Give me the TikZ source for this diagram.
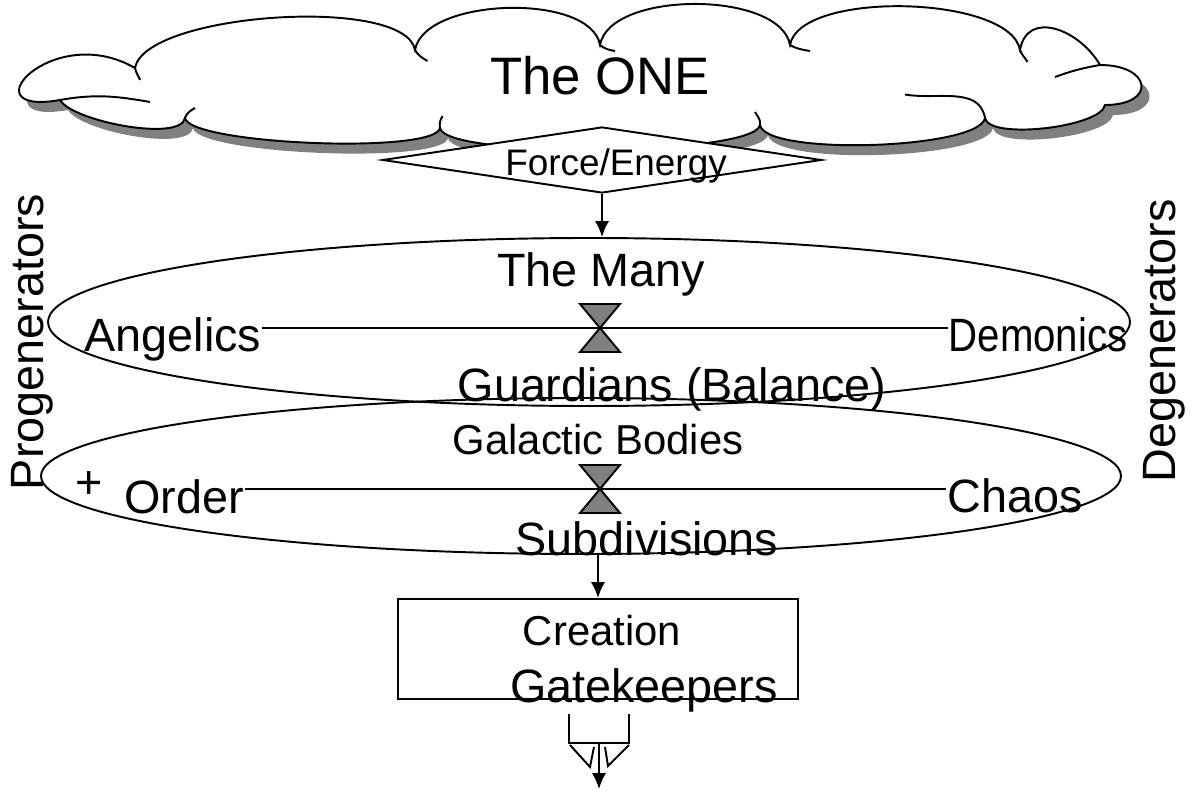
\documentclass[tikz,border=0pt]{standalone}
\usepackage{fontspec}
\setmainfont{Liberation Sans}
\usetikzlibrary{shapes.geometric,arrows.meta}
\tikzset{>={Latex[length=9pt,width=8pt]}}
\tikzset{
  big/.style={font=\fontsize{26.6}{30}\selectfont, inner sep=0pt, anchor=base},
  small/.style={font=\fontsize{23.8}{27}\selectfont, inner sep=0pt, anchor=base},
  ring/.style={draw, ellipse, inner sep=0pt},
  sandglass/.style={draw, fill=gray},
  shade/.style={preaction={fill=gray, transform canvas={xshift=0.16cm, yshift=-0.2cm}}},
}

\begin{document}
\begin{tikzpicture}[line width=1.1pt]
\useasboundingbox (0,0) rectangle (23.84,15.84);
\draw[fill=white, shade] (2.70,14.48) to[out=80,in=100,looseness=0.51] (8.30,14.84)
  to[out=80,in=100,looseness=0.74] (12.00,14.94)
  to[out=80,in=100,looseness=0.75] (15.80,14.94)
  to[out=80,in=100,looseness=0.62] (20.40,14.84)
  to[out=80,in=120,looseness=1.3] (22.00,14.54)
  to[out=0,in=0,looseness=3.3] (22.10,13.74)
  to[out=-100,in=-80,looseness=0.48] (19.70,13.48)
  to[out=-100,in=-80,looseness=0.36] (15.20,13.34)
  to[out=-100,in=-80,looseness=0.25] (8.80,13.28)
  to[out=-100,in=-80,looseness=0.27] (3.70,13.48)
  to[out=-100,in=-60,looseness=0.5] (1.20,13.84)
  to[out=190,in=150,looseness=3] (2.70,14.48) -- cycle;
\draw (2.70,14.48) to[out=-80,in=110] (2.80,14.24);
\draw (8.30,14.84) to[out=-60,in=150] (8.55,14.62);
\draw (12.00,14.94) to[out=-40,in=170] (12.30,14.82);
\draw (15.80,14.94) to[out=-30,in=170] (16.20,14.82);
\draw (20.40,14.84) to[out=-70,in=120] (20.55,14.60);
\draw (22.00,14.54) to[out=-170,in=20] (21.10,14.30);
\draw (19.70,13.48) to[out=100,in=-10] (18.10,13.95);
\draw (15.20,13.34) to[out=80,in=-60] (15.10,13.60);
\draw (8.80,13.28) to[out=100,in=-120] (8.85,13.52);
\draw (3.70,13.48) to[out=70,in=-150] (3.90,13.68);
\draw (1.20,13.84) to[out=10,in=170] (3.00,13.80);
\node (one) [font=\fontsize{30}{34}\selectfont, inner sep=0pt, anchor=base] at (12.0,13.94) {The ONE};
\node (energy) [diamond, draw, fill=white, minimum width=8.78cm, minimum height=1.32cm, inner sep=0pt] at (12.04,12.64) {};
\node (energylbl) [font=\fontsize{21}{24}\selectfont, inner sep=0pt, anchor=base] at (12.32,12.32) {Force/Energy};
\node (many) [ring, minimum width=21.64cm, minimum height=3.36cm] at (11.78,9.40) {};
\node (galaxy) [ring, minimum width=21.6cm, minimum height=3.12cm] at (11.62,6.32) {};
\node (manylbl) [big] at (12.02,10.1) {The Many};
\node (angelics) [big] at (3.46,8.8) {Angelics};
\node (demonics) [big] at (20.76,8.8) {\scalebox{0.86}[1]{Demonics}};
\node (guardians) [big] at (13.44,7.8) {Guardians (Balance)};
\node (bodies) [small] at (11.96,6.74) {Galactic Bodies};
\node (plus) [big] at (1.78,5.88) {+};
\node (order) [big] at (3.68,5.58) {Order};
\node (chaos) [big] at (20.3,5.6) {Chaos};
\node (subdiv) [big] at (12.94,4.74) {Subdivisions};
\node (box) [draw, minimum width=8cm, minimum height=2cm, inner sep=0pt] at (11.96,2.86) {};
\node (creation) [small] at (12.04,2.94) {Creation};
\node (gatekeepers) [big] at (12.88,1.8) {Gatekeepers};
\node (prog) [big, rotate=90] at (0.86,9.0) {Progenerators};
\node (degen) [big, rotate=90] at (23.5,9.02) {Degenerators};
\coordinate (hg1) at (12.0,9.28);
\coordinate (hg2) at (12.0,6.06);
\draw (angelics.east |- hg1) -- (demonics.west |- hg1);
\draw (order.east |- hg2) -- (chaos.west |- hg2);
\draw[sandglass, shift={(hg1)}] (-0.4,0.48) -- (0.4,0.48) -- (-0.4,-0.48) -- (0.4,-0.48) -- cycle;
\draw[sandglass, shift={(hg2)}] (-0.4,0.48) -- (0.4,0.48) -- (-0.4,-0.48) -- (0.4,-0.48) -- cycle;
\draw[->] (energy.south) -- (energy.south |- many.north);
\draw[->] (galaxy.south -| box.north) -- (box.north);
\coordinate (gkl) at (11.38,1.56);
\coordinate (gkr) at (12.58,1.56);
\draw (gkl) -- (11.38,0.98) -- (12.58,0.98) -- (gkr);
\draw (11.4,0.94) -- (11.8,0.5) -- (11.88,0.9);
\draw (12.1,0.9) -- (12.16,0.52) -- (12.58,0.94);
\coordinate (split) at (11.98,0.98);
\coordinate (outlet) at (11.98,0.06);
\draw[->] (split) -- (outlet);
\end{tikzpicture}
\end{document}
